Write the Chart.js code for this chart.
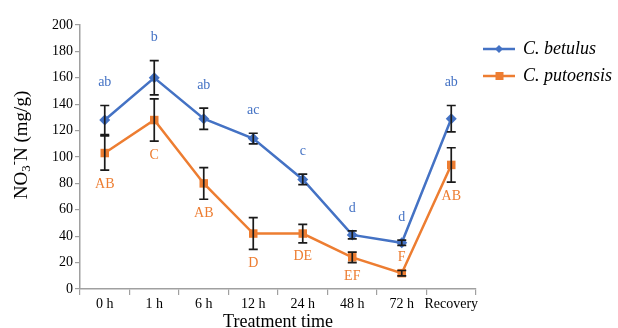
<!DOCTYPE html>
<html lang="en">
<head>
  <meta charset="UTF-8">
  <script src="https://cdn.jsdelivr.net/npm/chart.js"></script>
  <title>NO3-N</title>
  <style>
    body { margin: 0; background: #fff; }
    #box { width: 618px; height: 328px; }
  </style>
</head>
<body>
<div id="box"><canvas id="grafico"></canvas></div>
<script>
  var categorias = ['0 h', '1 h', '6 h', '12 h', '24 h', '48 h', '72 h', 'Recovery']
  var valoresBetulus = [128, 160, 129, 114, 83, 41, 35, 129]
  var erroBetulus = [11, 13, 8, 4, 4, 3, 2, 10]
  var letrasBetulus = ['ab', 'b', 'ab', 'ac', 'c', 'd', 'd', 'ab']
  var valoresPutoensis = [103, 128, 80, 42, 42, 24, 12, 94]
  var erroPutoensis = [13, 16, 12, 12, 7, 4, 2, 13]
  var letrasPutoensis = ['AB', 'C', 'AB', 'D', 'DE', 'EF', 'F', 'AB']
  var ticksY = [0, 20, 40, 60, 80, 100, 120, 140, 160, 180, 200]

  var azul = '#4472C4'
  var laranja = '#ED7D31'
  var fonte = '"Liberation Serif", "Times New Roman", serif'

  // barras de erro + letras
  var pluginErros = {
    id: 'erros',
    afterDatasetsDraw(chart) {
      var ctx = chart.ctx
      var y = chart.scales.y
      var series = [
        { valores: valoresBetulus, erros: erroBetulus, letras: letrasBetulus, cor: azul, acima: true },
        { valores: valoresPutoensis, erros: erroPutoensis, letras: letrasPutoensis, cor: laranja, acima: false }
      ]
      ctx.save()
      ctx.strokeStyle = '#1a1a1a'
      ctx.lineWidth = 1.7
      series.forEach((s, d) => {
        var meta = chart.getDatasetMeta(d)
        meta.data.forEach((pt, i) => {
          var top = y.getPixelForValue(s.valores[i] + s.erros[i])
          var bot = y.getPixelForValue(s.valores[i] - s.erros[i])
          ctx.beginPath()
          ctx.moveTo(pt.x, top); ctx.lineTo(pt.x, bot)
          ctx.moveTo(pt.x - 4.5, top); ctx.lineTo(pt.x + 4.5, top)
          ctx.moveTo(pt.x - 4.5, bot); ctx.lineTo(pt.x + 4.5, bot)
          ctx.stroke()
        })
      })
      ctx.font = '14px ' + fonte
      ctx.textAlign = 'center'
      ctx.textBaseline = 'middle'
      series.forEach((s, d) => {
        var meta = chart.getDatasetMeta(d)
        ctx.fillStyle = s.cor
        meta.data.forEach((pt, i) => {
          var top = y.getPixelForValue(s.valores[i] + s.erros[i])
          var bot = y.getPixelForValue(s.valores[i] - s.erros[i])
          var ly = s.acima ? top - 23 : bot + 14
          if (!s.acima && ly > chart.chartArea.bottom - 8) ly = pt.y - 16
          ctx.fillText(s.letras[i], pt.x, ly)
        })
      })
      ctx.restore()
    }
  }

  // titulos e legenda
  var pluginTextos = {
    id: 'textos',
    afterDraw(chart) {
      var ctx = chart.ctx
      var area = chart.chartArea
      ctx.save()
      ctx.fillStyle = '#000'
      // titulo eixo y
      ctx.translate(22, 145)
      ctx.rotate(-Math.PI / 2)
      var big = '19px ' + fonte
      var small = '13px ' + fonte
      var partes = [['NO', big, 0], ['3', small, 5], ['-', small, -7], ['N (mg/g)', big, 0]]
      var w = 0
      partes.forEach(p => { ctx.font = p[1]; w += ctx.measureText(p[0]).width })
      var x = -w / 2
      ctx.textBaseline = 'middle'
      partes.forEach(p => {
        ctx.font = p[1]
        ctx.fillText(p[0], x, p[2])
        x += ctx.measureText(p[0]).width
      })
      ctx.restore()

      ctx.save()
      ctx.font = '18px ' + fonte
      ctx.textAlign = 'center'
      ctx.textBaseline = 'middle'
      ctx.fillStyle = '#000'
      ctx.fillText('Treatment time', (area.left + area.right) / 2, 322)

      // legenda
      var itens = [
        { nome: 'C. betulus', cor: azul, marca: 'diamante', y: 49 },
        { nome: 'C. putoensis', cor: laranja, marca: 'quadrado', y: 76 }
      ]
      ctx.textAlign = 'left'
      ctx.font = 'italic 18px ' + fonte
      itens.forEach(it => {
        ctx.strokeStyle = it.cor
        ctx.fillStyle = it.cor
        ctx.lineWidth = 2.5
        ctx.beginPath()
        ctx.moveTo(483, it.y); ctx.lineTo(515, it.y)
        ctx.stroke()
        ctx.beginPath()
        if (it.marca === 'diamante') {
          ctx.moveTo(499, it.y - 4); ctx.lineTo(503, it.y); ctx.lineTo(499, it.y + 4); ctx.lineTo(495, it.y)
        } else {
          ctx.rect(495.5, it.y - 4, 8, 8)
        }
        ctx.fill()
        ctx.fillStyle = '#000'
        ctx.fillText(it.nome, 523, it.y)
      })
      ctx.restore()
    }
  }

  var config = {
    type: 'line',
    data: {
      labels: categorias,
      datasets: [{
        label: 'C. betulus',
        data: valoresBetulus,
        borderColor: azul,
        backgroundColor: azul,
        borderWidth: 2.5,
        pointStyle: 'rectRot',
        pointRadius: 5.5,
        pointBorderWidth: 0
      }, {
        label: 'C. putoensis',
        data: valoresPutoensis,
        borderColor: laranja,
        backgroundColor: laranja,
        borderWidth: 2.5,
        pointStyle: 'rect',
        pointRadius: 6,
        pointBorderWidth: 0
      }]
    },
    options: {
      responsive: true,
      maintainAspectRatio: false,
      animation: false,
      layout: { padding: { left: 0, right: 142, top: 25, bottom: 0 } },
      plugins: {
        legend: { display: false },
        tooltip: { enabled: false }
      },
      scales: {
        x: {
          offset: true,
          afterFit(s) { s.height = 39 },
          grid: { offset: true, drawOnChartArea: false, tickLength: 6, color: '#a0a0a0', lineWidth: 1.2 },
          border: { color: '#a0a0a0', width: 1.5 },
          ticks: { color: '#000', font: { family: fonte, size: 14 }, padding: 1, maxRotation: 0, minRotation: 0, autoSkip: false }
        },
        y: {
          min: 0,
          max: 200,
          afterFit(s) { s.width = 80 },
          afterBuildTicks(s) { s.ticks = ticksY.map(v => ({ value: v })) },
          grid: { drawOnChartArea: false, tickLength: 5, color: '#a0a0a0', lineWidth: 1.2 },
          border: { color: '#a0a0a0', width: 1.5 },
          ticks: { color: '#000', font: { family: fonte, size: 14 }, padding: 2 }
        }
      }
    },
    plugins: [pluginErros, pluginTextos]
  }

  new Chart(document.getElementById('grafico'), config)
</script>
</body>
</html>
